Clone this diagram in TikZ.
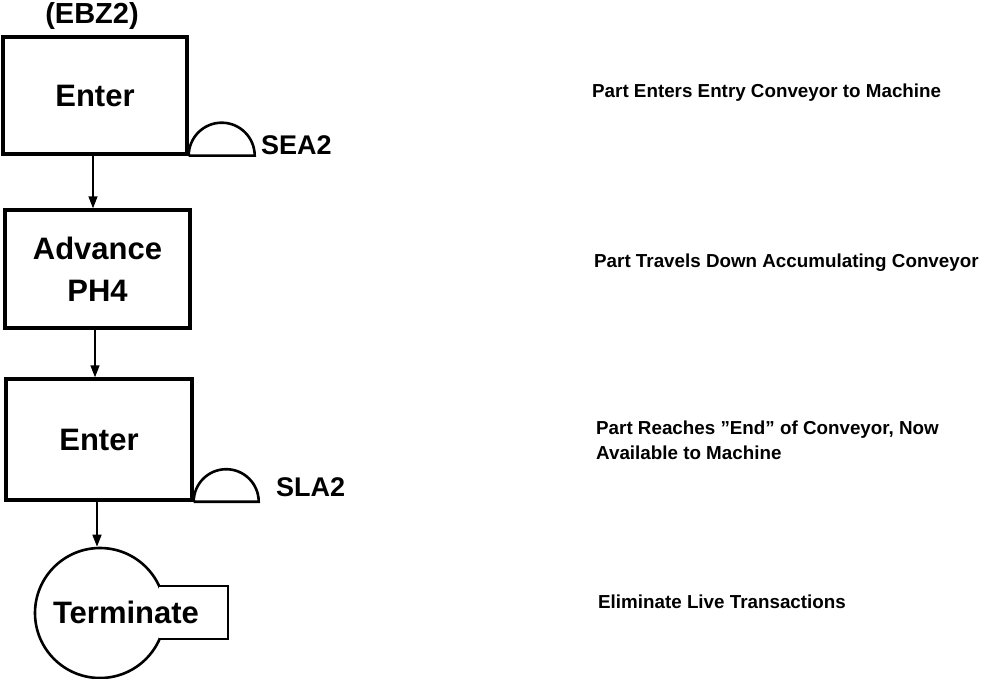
\documentclass[tikz,border=0pt]{standalone}
\usepackage{fontspec}
\setmainfont{Liberation Sans}
\usetikzlibrary{arrows.meta}
\begin{document}
\begin{tikzpicture}[x=1pt,y=-1pt,
  blockbox/.style={draw,line width=3.4pt,inner sep=0pt,font=\fontsize{31}{36}\bfseries\selectfont,align=center},
  biglabel/.style={font=\fontsize{31}{36}\bfseries\selectfont,inner sep=0pt},
  qlabel/.style={font=\fontsize{27}{32}\bfseries\selectfont,inner sep=0pt,anchor=west},
  note/.style={font=\fontsize{18.8}{25}\bfseries\selectfont,inner sep=0pt,anchor=west,align=left},
  arr/.style={line width=1.5pt,-{Triangle[length=12pt,width=9pt]}},
  semi/.style={line width=2.6pt}]
\useasboundingbox (0,0) rectangle (985,679);
\node[font=\fontsize{29}{34}\bfseries\selectfont,inner sep=0pt] (ebz) at (92,16) {(EBZ2)};
\node[blockbox,minimum width=184pt,minimum height=117pt] (b1) at (95,95.5) {Enter};
\node[blockbox,minimum width=185pt,minimum height=118pt] (b2) at (97.5,269) {Advance\\[6pt]PH4};
\node[blockbox,minimum width=186pt,minimum height=121pt] (b3) at (99,439.5) {Enter};
\node[draw,circle,line width=2.6pt,minimum size=130pt,inner sep=0pt] (term) at (100,613) {};
\coordinate (tabA) at (159,586);
\coordinate (tabB) at (228,586);
\coordinate (tabC) at (228,639);
\coordinate (tabD) at (159,639);
\fill[white] (tabA) rectangle (tabC);
\draw[line width=2.6pt] (tabA) -- (tabB) -- (tabC) -- (tabD);
\node[biglabel] (termtxt) at (126,612) {Terminate};
% queue semicircles
\draw[semi] (b1.south east) arc[start angle=180,end angle=360,radius=33] -- (b1.south east);
\draw[semi] (b3.south east) arc[start angle=180,end angle=360,radius=32.5] -- (b3.south east);
\node[qlabel] (sea) at (261,145) {SEA2};
\node[qlabel] (sla) at (276,487) {SLA2};
% connectors
\draw[arr] ([xshift=-2pt]b1.south) -- ([xshift=-2pt]b1.south |- b2.north);
\draw[arr] ([xshift=-2.5pt]b2.south) -- ([xshift=-2.5pt]b2.south |- b3.north);
\draw[arr] ([xshift=-2pt]b3.south) -- ([xshift=-2pt]b3.south |- term.north);
% notes
\node[note] (n1) at (592,93) {Part Enters Entry Conveyor to Machine};
\node[note] (n2) at (594,263) {Part Travels Down Accumulating Conveyor};
\node[note] (n3) at (596,440) {Part Reaches ''End'' of Conveyor, Now\\Available to Machine};
\node[note] (n4) at (598,602) {Eliminate Live Transactions};
\end{tikzpicture}
\end{document}
